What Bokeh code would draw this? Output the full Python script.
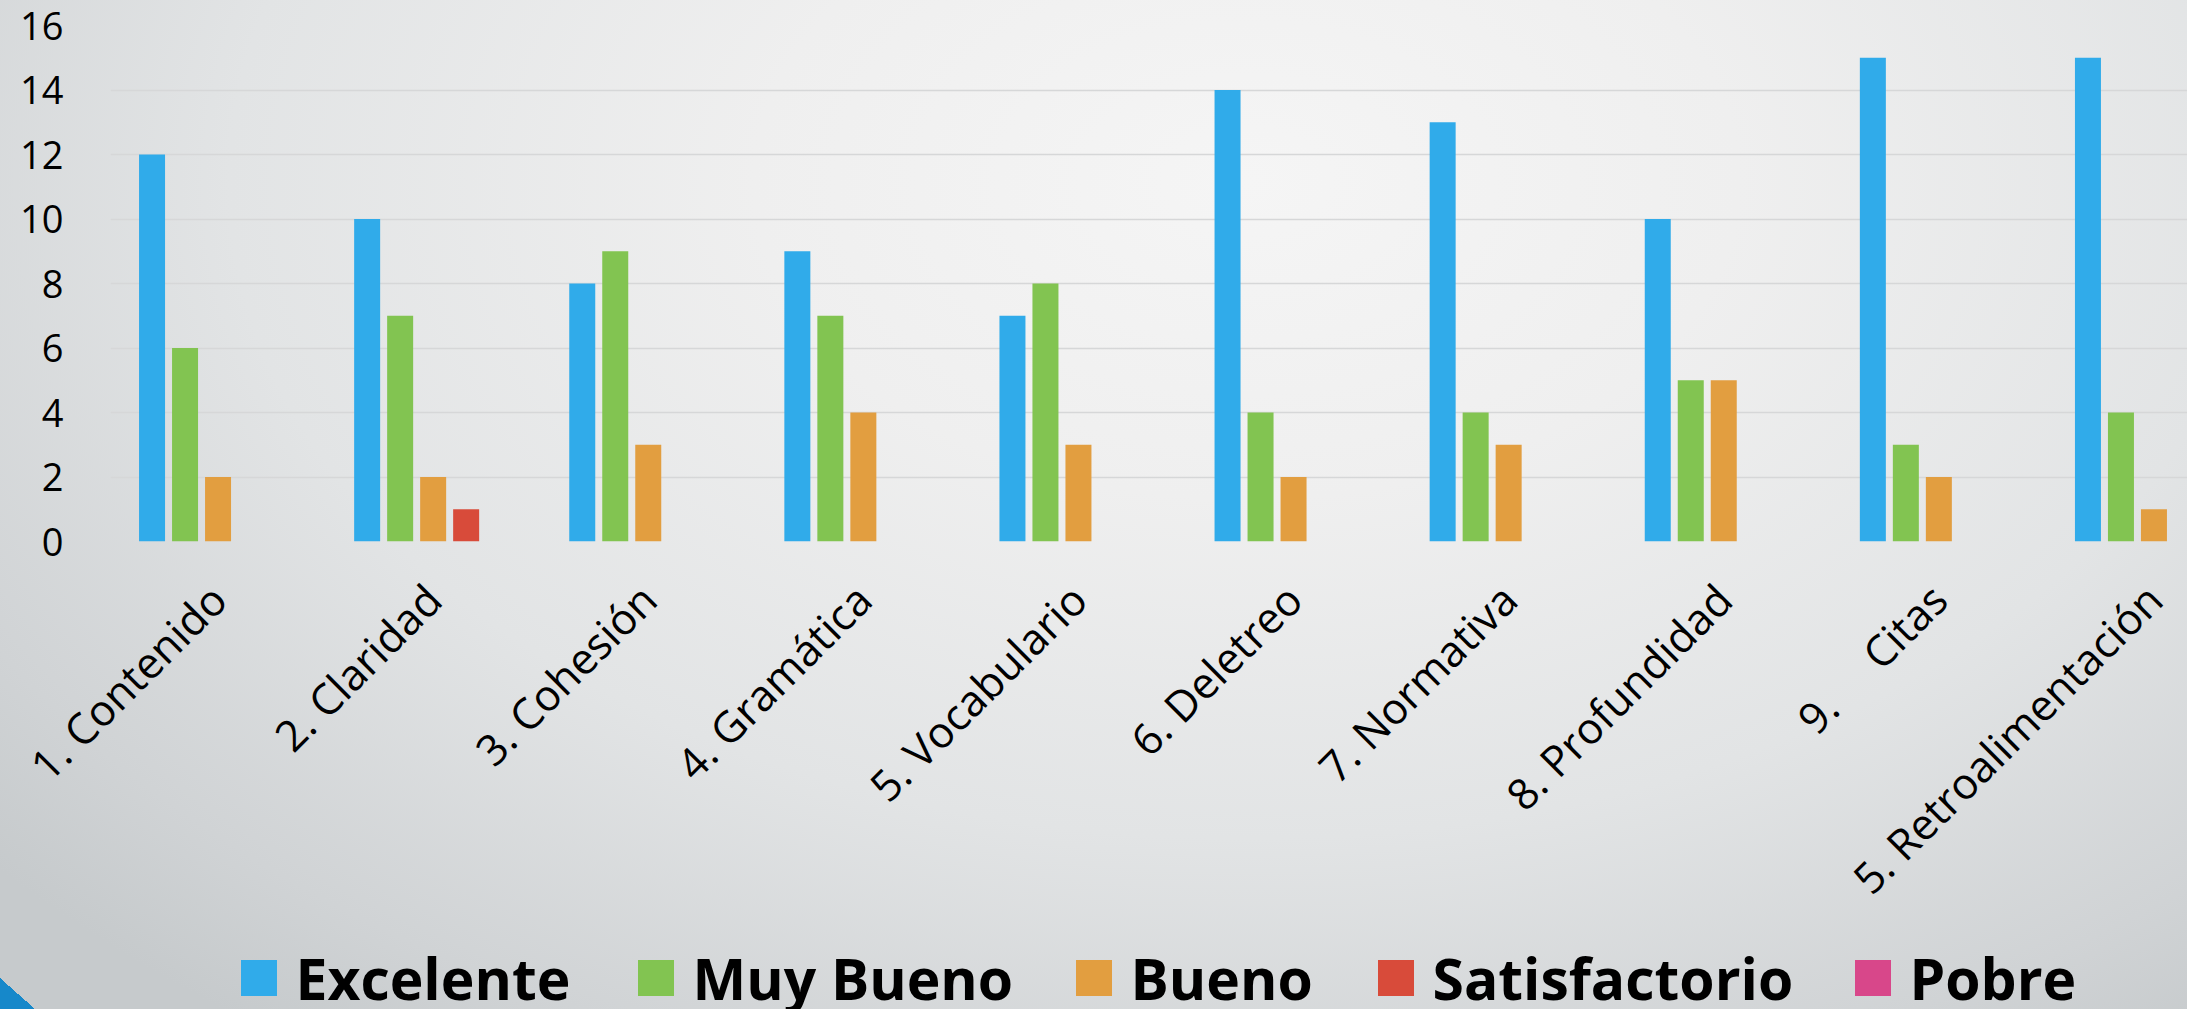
import math
from bokeh.plotting import figure
from bokeh.layouts import column
from bokeh.models import ColumnDataSource, Range1d, FixedTicker, Legend, LegendItem
from bokeh.transform import dodge
from bokeh.embed import file_html
from bokeh.resources import INLINE

# ---------------- data ----------------
categories = ["1. Contenido", "2. Claridad", "3. Cohesión", "4. Gramática",
              "5. Vocabulario", "6. Deletreo", "7. Normativa", "8. Profundidad",
              "9.\u00a0\u00a0\u00a0\u00a0\u00a0Citas", "5. Retroalimentación"]
series_names = ["Excelente", "Muy Bueno", "Bueno", "Satisfactorio", "Pobre"]
excelente = [12, 10, 8, 9, 7, 14, 13, 10, 15, 15]
muy_bueno = [6, 7, 9, 7, 8, 4, 4, 5, 3, 4]
bueno = [2, 2, 3, 4, 3, 2, 3, 5, 2, 1]
satisfactorio = [0, 1, 0, 0, 0, 0, 0, 0, 0, 0]
pobre = [0, 0, 0, 0, 0, 0, 0, 0, 0, 0]
y_ticks = [0, 2, 4, 6, 8, 10, 12, 14, 16]

colors = ["#30abea", "#82c451", "#e29e40", "#d84b3a", "#d8478a"]

idx = list(range(len(categories)))
source = ColumnDataSource(dict(idx=idx, Excelente=excelente, MuyBueno=muy_bueno,
                               Bueno=bueno, Satisfactorio=satisfactorio, Pobre=pobre))
cols = ["Excelente", "MuyBueno", "Bueno", "Satisfactorio", "Pobre"]

# ---------------- layout constants ----------------
W, H = 2187, 1009
H1 = 940                      # chart part (bars + category labels)
H2 = H - H1                   # legend strip
cat_px = 215.1
frame_left, frame_top, frame_bottom = 110, 25, 541

GRAD = ("radial-gradient(ellipse 75% 105% at 57% 18%, #f5f5f5 0%, #efefef 30%, "
        "#e2e4e5 62%, #d0d3d5 88%, #c6cacc 100%)")
TRI = "linear-gradient(to top right, #1688ca 50%, rgba(0,0,0,0) 50%)"

# ---------------- chart ----------------
p = figure(width=W, height=H1, output_backend="svg", toolbar_location=None,
           x_range=Range1d(-0.5, -0.5 + (W - frame_left) / cat_px), y_range=Range1d(0, 16),
           min_border_left=frame_left, min_border_right=0, min_border_top=frame_top,
           min_border_bottom=H1 - frame_bottom)
p.background_fill_color = None
p.border_fill_color = None
p.outline_line_color = None
p.styles = {"background": f"{GRAD} 0px 0px / {W}px {H}px no-repeat"}

bar_w = 26 / cat_px
step = 33 / cat_px
for k, (col, c) in enumerate(zip(cols, colors)):
    p.vbar(x=dodge("idx", (k - 2) * step, range=p.x_range), top=col, width=bar_w,
           bottom=0, source=source, fill_color=c, line_color=None)

p.xgrid.grid_line_color = None
p.ygrid.ticker = FixedTicker(ticks=y_ticks)
p.ygrid.grid_line_color = "#d6d7d8"
p.ygrid.grid_line_width = 1.5

p.yaxis.ticker = FixedTicker(ticks=y_ticks)
p.yaxis.axis_line_color = None
p.yaxis.major_tick_line_color = None
p.yaxis.minor_tick_line_color = None
p.yaxis.major_tick_out = 0
p.yaxis.major_tick_in = 0
p.yaxis.major_label_standoff = 47
p.yaxis.major_label_text_font = "Open Sans"
p.yaxis.major_label_text_font_size = "38px"
p.yaxis.major_label_text_color = "#000000"

p.xaxis.ticker = FixedTicker(ticks=idx)
p.xaxis.major_label_overrides = {i: c for i, c in zip(idx, categories)}
p.xaxis.axis_line_color = None
p.xaxis.major_tick_line_color = None
p.xaxis.minor_tick_line_color = None
p.xaxis.major_tick_out = 0
p.xaxis.major_tick_in = 0
p.xaxis.major_label_orientation = math.pi / 4
p.xaxis.major_label_standoff = 50
p.xaxis.major_label_text_font = "Open Sans"
p.xaxis.major_label_text_font_size = "43px"
p.xaxis.major_label_text_color = "#000000"

# ---------------- legend strip ----------------
q = figure(width=W, height=H2, output_backend="svg", toolbar_location=None,
           x_range=Range1d(-0.5, 9.5), y_range=Range1d(1000, 1001),
           min_border_left=frame_left, min_border_right=0, min_border_top=0, min_border_bottom=0)
q.axis.visible = False
q.grid.visible = False
q.background_fill_color = None
q.border_fill_color = None
q.outline_line_color = None
q.styles = {"background": f"{TRI} left bottom / 35px 31px no-repeat, "
                          f"{GRAD} 0px -{H1}px / {W}px {H}px no-repeat"}

# legend glyph renderers (same series; outside the strip's visible y range)
legend_renderers = []
for k, (col, c) in enumerate(zip(cols, colors)):
    r = q.vbar(x="idx", top=col, width=0.5, bottom=0, source=source,
               fill_color=c, line_color=None)
    legend_renderers.append(r)

sq_left = [240, 637, 1075, 1377, 1854]
sq_center_from_bottom = H - 978
item_h = 77
for r, name, xl in zip(legend_renderers, series_names, sq_left):
    lg = Legend(items=[LegendItem(label=name, renderers=[r])],
                location=(xl - 4.5 - frame_left, sq_center_from_bottom - item_h / 2),
                orientation="horizontal", glyph_width=45, glyph_height=45,
                label_standoff=15, label_text_font="Open Sans",
                label_text_font_style="bold", label_text_font_size="57px",
                label_text_color="#000000", padding=0, margin=0, spacing=0,
                border_line_color=None, background_fill_alpha=0, label_height=45)
    q.add_layout(lg, "center")

layout = column(p, q, spacing=0)
open("out.html", "w").write(file_html(layout, INLINE))
